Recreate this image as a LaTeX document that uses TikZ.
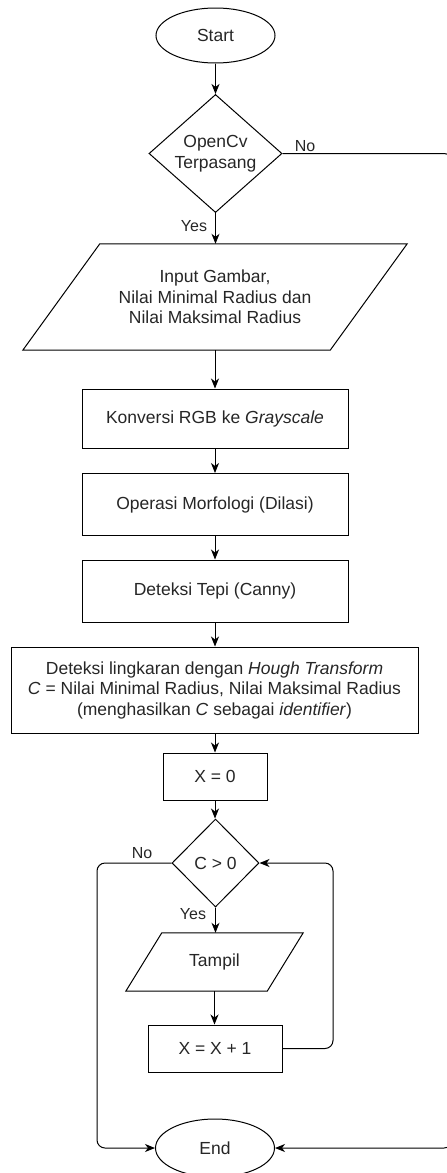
\documentclass[tikz,border=0pt]{standalone}
\usepackage{fontspec}
\setmainfont{Liberation Sans}
\usetikzlibrary{shapes.geometric,arrows.meta,calc}
\begin{document}
\begin{tikzpicture}[x=1pt,y=-1pt,
  font=\fontsize{17.5}{20.5}\selectfont,
  base/.style={draw=black, line width=1pt, inner sep=0pt, align=center, text=black!85},
  proc/.style={base, rectangle},
  term/.style={base, ellipse, minimum width=119pt, minimum height=55pt},
  decision/.style={base, diamond},
  iobox/.style={rectangle, inner sep=0pt, align=center, draw=none, text=black!85},
  shapeline/.style={line width=1pt, line join=miter},
  conn/.style={line width=1pt, rounded corners=8pt},
  arr/.style={conn, -{Stealth[length=10pt,width=8pt,inset=3pt]}},
  lab/.style={font=\fontsize{16}{18}\selectfont, inner sep=0pt, text=black!85}]
\useasboundingbox (0,0) rectangle (447,1173);

% nodes
\node[term] (start) at (215.5,35.5) {Start};
\node[decision, minimum width=133pt, minimum height=117pt] (d1) at (215.5,153.5) {OpenCv\\Terpasang};
\node[iobox, minimum width=384pt, minimum height=106pt] (input) at (215,297)
  {Input Gambar,\\Nilai Minimal Radius dan\\ Nilai Maksimal Radius};
\draw[shapeline] ($(input.north west)+(77,0)$) -- (input.north east)
  -- ($(input.south east)-(77,0)$) -- (input.south west) -- cycle;
\node[proc, minimum width=266pt, minimum height=59pt] (konv) at (215,418.5) {Konversi RGB ke \textit{Grayscale}};
\node[proc, minimum width=266pt, minimum height=62pt] (morf) at (215,504.5) {Operasi Morfologi (Dilasi)};
\node[proc, minimum width=266pt, minimum height=62pt] (canny) at (215,591) {Deteksi Tepi (Canny)};
\node[proc, minimum width=407pt, minimum height=86pt] (hough) at (214.5,690)
  {Deteksi lingkaran dengan \textit{Hough Transform}\\\textit{C} = Nilai Minimal Radius, Nilai Maksimal Radius\\(menghasilkan \textit{C} sebagai \textit{identifier})};
\node[proc, minimum width=104pt, minimum height=47pt] (x0) at (215,776.5) {X = 0};
\node[decision, minimum width=87pt, minimum height=88pt] (d2) at (215.5,863) {C > 0};
\node[iobox, minimum width=177pt, minimum height=58pt] (tampil) at (214.5,962) {Tampil};
\draw[shapeline] ($(tampil.north west)+(36,0)$) -- (tampil.north east)
  -- ($(tampil.south east)-(36,0)$) -- (tampil.south west) -- cycle;
\node[proc, minimum width=134pt, minimum height=47pt] (inc) at (215,1048.5) {X = X + 1};
\node[term, minimum height=58pt] (end) at (215,1148) {End};

% labels
\node[lab] (no1) at (305,146) {No};
\node[lab] (yes1) at (194,226) {Yes};
\node[lab] (no2) at (142,853) {No};
\node[lab] (yes2) at (193,914) {Yes};

% free-end coordinates
\coordinate (rr) at (452,153.5);
\coordinate (ll) at (97,863);
\coordinate (rl) at (333,1048.5);

% connectors
\draw[arr] (start) -- (d1);
\draw[arr] (d1.south) -- (d1.south |- input.north);
\draw[arr] (input.south) -- (input.south |- konv.north);
\draw[arr] (konv) -- (morf);
\draw[arr] (morf) -- (canny);
\draw[arr] (canny.south) -- (canny.south |- hough.north);
\draw[arr] (x0.north |- hough.south) -- (x0.north);
\draw[arr] (x0.south) -- (x0.south |- d2.north);
\draw[arr] (d2.south) -- (d2.south |- tampil.north);
\draw[arr] (tampil.south) -- (tampil.south |- inc.north);
\draw[arr] (d1.east) -- (rr) |- (end.east);
\draw[arr] (d2.west) -- (ll) |- (end.west);
\draw[arr] (inc.east) -- (rl) |- (d2.east);
\end{tikzpicture}
\end{document}
